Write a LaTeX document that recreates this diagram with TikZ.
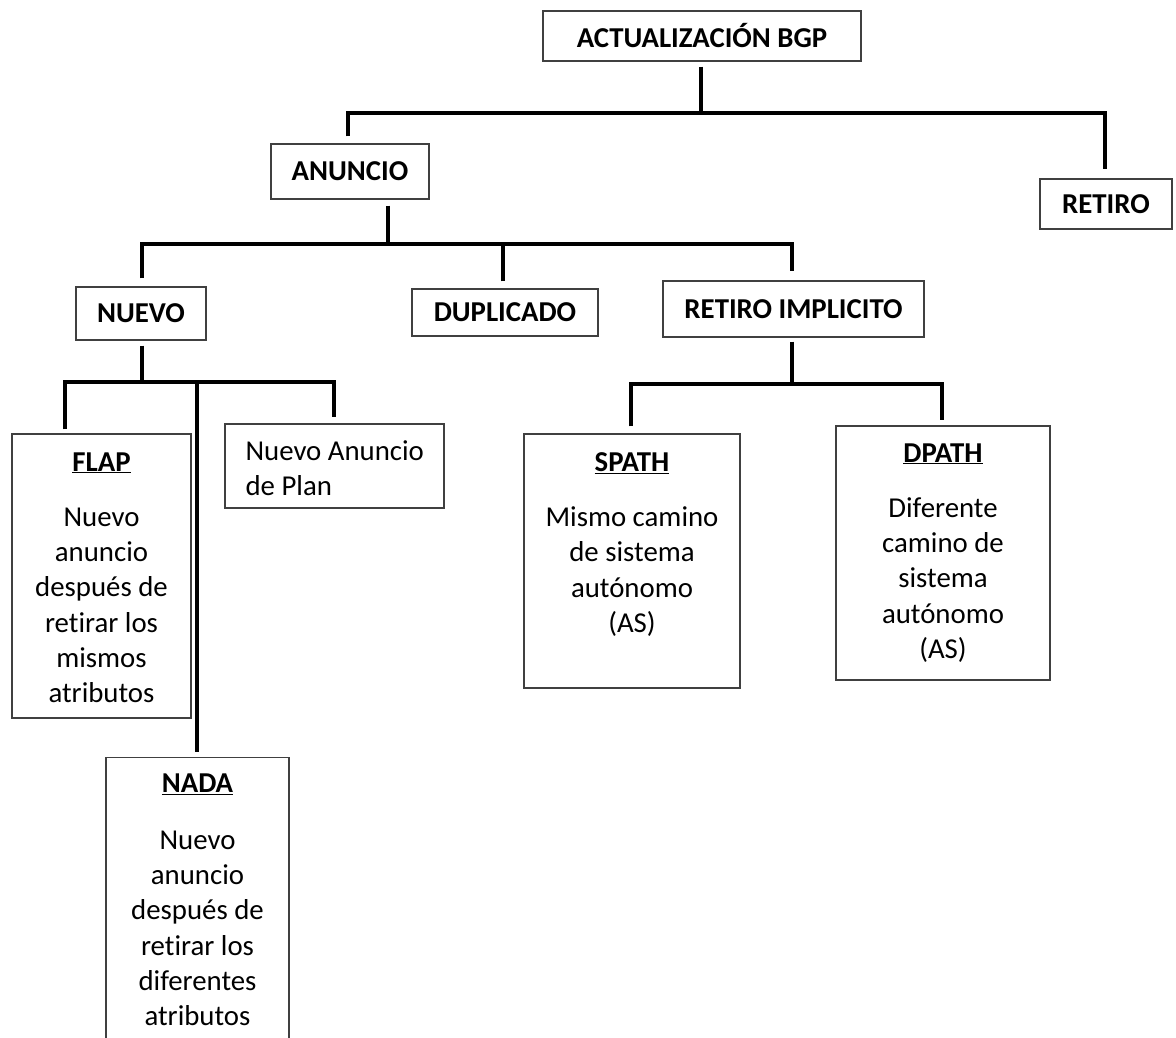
\documentclass[tikz,border=0pt]{standalone}
\usepackage{fontspec}
\setmainfont{Carlito}[Ligatures=NoCommon]
\begin{document}
\begin{tikzpicture}[x=1pt,y=-1pt,
  conn/.style={line width=3.4pt, black},
  box/.style={draw=black!75, line width=1.3pt, fill=white, inner sep=0pt},
  headtxt/.style={font=\fontsize{28.8}{34}\selectfont\bfseries},
  bodytxt/.style={font=\fontsize{28.8}{35.3}\selectfont, align=center, inner sep=0pt}
]
% page
\fill[white] (0,0) rectangle (1176,1038);
\useasboundingbox (0,0) rectangle (1176,1038);

% level 0 and 1
\node[box, headtxt, minimum width=318pt, minimum height=50pt] (top) at (702,36) {ACTUALIZACIÓN BGP};
\node[box, headtxt, minimum width=158pt, minimum height=55pt] (anuncio) at (350,171.5) {ANUNCIO};
\node[box, headtxt, minimum width=132pt, minimum height=50pt] (retiro) at (1106,204) {RETIRO};

% level 2
\node[box, headtxt, minimum width=130pt, minimum height=53pt] (nuevo) at (141,313.5) {NUEVO};
\node[box, headtxt, minimum width=186pt, minimum height=47pt] (dup) at (505,312.5) {DUPLICADO};
\node[box, headtxt, minimum width=261pt, minimum height=56pt] (retimp) at (793.5,309) {RETIRO IMPLICITO};

% level 3 boxes
\node[box, minimum width=179pt, minimum height=284pt] (flap) at (101.5,576) {};
\node[bodytxt, anchor=north] (flaptxt) at ([yshift=-19pt]flap.north)
  {\underline{\textbf{FLAP}}\\[19.7pt]Nuevo\\anuncio\\después de\\retirar los\\mismos\\atributos};

\node[box, minimum width=219pt, minimum height=84pt] (plan) at (334.5,466) {};
\node[bodytxt, align=left, anchor=north west] (plantxt) at ([xshift=21pt,yshift=-17pt]plan.north west)
  {Nuevo Anuncio\\de Plan};

\node[box, minimum width=183pt, minimum height=300pt, anchor=north] (nada) at (197.5,757) {};
\node[bodytxt, anchor=north] (nadatxt) at ([yshift=-17pt]nada.north)
  {\underline{\textbf{NADA}}\\[21pt]Nuevo\\anuncio\\después de\\retirar los\\diferentes\\atributos};

\node[box, minimum width=216pt, minimum height=254pt] (spath) at (632,561) {};
\node[bodytxt, anchor=north] (spathtxt) at ([yshift=-19pt]spath.north)
  {\underline{\textbf{SPATH}}\\[19.7pt]Mismo camino\\de sistema\\autónomo\\(AS)};

\node[box, minimum width=214pt, minimum height=254pt] (dpath) at (943,553) {};
\node[bodytxt, anchor=north] (dpathtxt) at ([yshift=-18pt]dpath.north)
  {\underline{\textbf{DPATH}}\\[19.7pt]Diferente\\camino de\\sistema\\autónomo\\(AS)};

% bus lines
\coordinate (busA) at (0,113);
\coordinate (busB) at (0,244);
\coordinate (busC) at (0,382);
\coordinate (busD) at (0,384);

% BGP update -> announcement / withdrawal
\draw[conn] ([xshift=-1pt,yshift=-5pt]top.south) -- ([xshift=-1pt]top.south |- busA);
\draw[conn] ([xshift=-2pt,yshift=7pt]anuncio.north) -- ([xshift=-2pt]anuncio.north |- busA)
  -- ([xshift=-1pt]retiro.north |- busA) -- ([xshift=-1pt,yshift=9pt]retiro.north);

% announcement -> new / duplicate / implicit withdrawal
\draw[conn] ([xshift=38pt,yshift=-6pt]anuncio.south) -- ([xshift=38pt]anuncio.south |- busB);
\draw[conn] ([xshift=1pt,yshift=8pt]nuevo.north) -- ([xshift=1pt]nuevo.north |- busB)
  -- ([xshift=-1.5pt]retimp.north |- busB) -- ([xshift=-1.5pt,yshift=9pt]retimp.north);
\draw[conn] ([xshift=-2pt,yshift=7pt]dup.north) -- ([xshift=-2pt]dup.north |- busB);

% new -> FLAP / plan / NADA
\draw[conn] ([xshift=1pt,yshift=-5pt]nuevo.south) -- ([xshift=1pt]nuevo.south |- busC);
\draw[conn] ([xshift=-36.5pt,yshift=4pt]flap.north) -- ([xshift=-36.5pt]flap.north |- busC)
  -- ([xshift=-0.5pt]plan.north |- busC) -- ([xshift=-0.5pt,yshift=6pt]plan.north);
\draw[conn] ([xshift=-0.5pt]nada.north |- busC) -- ([xshift=-0.5pt,yshift=5pt]nada.north);

% implicit withdrawal -> SPATH / DPATH
\draw[conn] ([xshift=-1.5pt,yshift=-4pt]retimp.south) -- ([xshift=-1.5pt]retimp.south |- busD);
\draw[conn] ([xshift=-1pt,yshift=7pt]spath.north) -- ([xshift=-1pt]spath.north |- busD)
  -- ([xshift=-1pt]dpath.north |- busD) -- ([xshift=-1pt,yshift=5pt]dpath.north);
\end{tikzpicture}
\end{document}
